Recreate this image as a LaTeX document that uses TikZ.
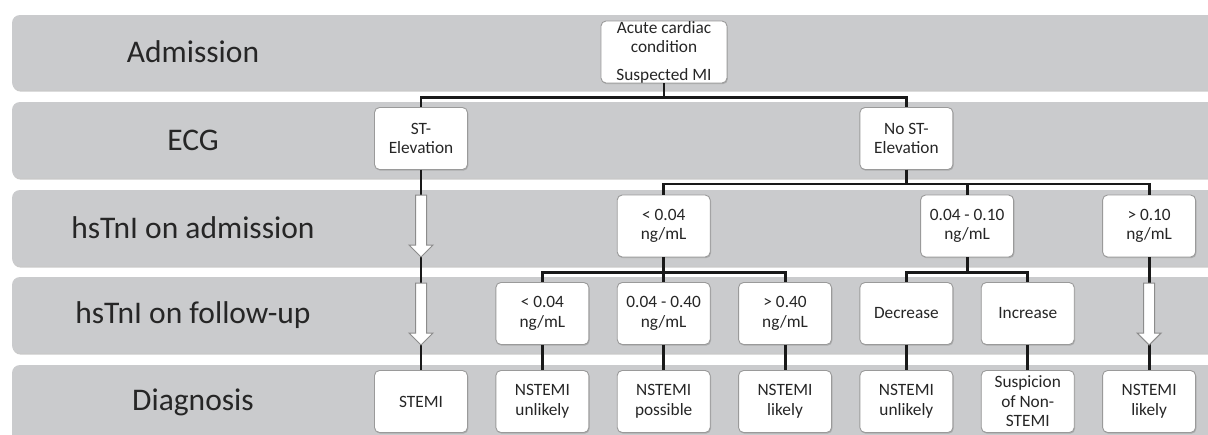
\documentclass[tikz,border=0pt]{standalone}
\usepackage{fontspec}
\setmainfont{Carlito}
\usetikzlibrary{shadows,calc}
\definecolor{bandgray}{HTML}{CACBCD}
\definecolor{boxline}{HTML}{9A9A9A}
\definecolor{txt}{HTML}{262626}
\definecolor{arrline}{HTML}{8C8C8C}
\tikzset{
  band/.style={fill=bandgray, rounded corners=8pt,
    drop shadow={shadow xshift=0.6pt, shadow yshift=-1.6pt, opacity=0.35, fill=black!60}},
  lbl/.style={text=txt, font=\fontsize{31.5}{36}\selectfont, inner sep=0pt},
  box/.style={draw=boxline, line width=0.9pt, fill=white, rounded corners=5pt,
    minimum width=93pt, minimum height=62pt, inner sep=0pt, align=center,
    text=txt, font=\fontsize{17.3}{19.5}\selectfont,
    drop shadow={shadow xshift=0.8pt, shadow yshift=-1.2pt, opacity=0.3, fill=black!60}},
  conn/.style={line width=2.9pt, draw=black!90},
  hollow/.style={draw=arrline, line width=1pt, fill=white, line join=miter}
}
\newcommand\hollowarr[2]{%
  \draw[hollow] ($(#1)+(-5.5,0)$) -- ($(#2)+(-5.5,-12)$) -- ($(#2)+(-12,-12)$) --
    (#2) -- ($(#2)+(12,-12)$) -- ($(#2)+(5.5,-12)$) -- ($(#1)+(5.5,0)$) -- cycle;}
\begin{document}
\begin{tikzpicture}[x=1pt,y=-1pt]
\useasboundingbox (0,0) rectangle (1208,434);
\clip (0,0) rectangle (1208,434);
\fill[white] (0,0) rectangle (1208,434);
% lanes
\path[band] (12,15) rectangle (1240,90);
\path[band] (12,102) rectangle (1240,178);
\path[band] (12,190) rectangle (1240,266);
\path[band] (12,277) rectangle (1240,353);
\path[band] (12,365) rectangle (1240,470);
% lane labels
\node[lbl] (lA) at (193,52) {Admission};
\node[lbl] (lE) at (193,140) {ECG};
\node[lbl] (lH) at (193,228) {hsTnI on admission};
\node[lbl] (lF) at (193,315) {hsTnI on follow-up};
\node[lbl] (lD) at (193,402) {Diagnosis};
% arrow coordinates
\coordinate (a1s) at (421,195);
\coordinate (a1e) at (421,257);
\coordinate (a2s) at (421,283);
\coordinate (a2e) at (421,345);
\coordinate (a3s) at (1149.1,283);
\coordinate (a3e) at (1149.1,345);
% boxes
\node[box, minimum width=126pt] (acute) at (664,52)
  {\fontsize{17.3}{17}\selectfont Acute cardiac\\condition\\[8pt]Suspected MI};
\node[box] (stel) at (421,138.5) {ST-\\Elevation};
\node[box] (nost) at (906.4,138.5) {No ST-\\Elevation};
\node[box] (hlow) at (663.7,226) {< 0.04\\ng/mL};
\node[box] (hmid) at (967.1,226) {0.04 - 0.10\\ng/mL};
\node[box] (hhigh) at (1149.1,226) {> 0.10\\ng/mL};
\node[box] (f1) at (542.35,313.5) {< 0.04\\ng/mL};
\node[box] (f2) at (663.7,313.5) {0.04 - 0.40\\ng/mL};
\node[box] (f3) at (785.05,313.5) {> 0.40\\ng/mL};
\node[box] (f4) at (906.4,313.5) {Decrease};
\node[box] (f5) at (1027.75,313.5) {Increase};
\node[box] (d0) at (421,401.5) {STEMI};
\node[box] (d1) at (542.35,401.5) {NSTEMI\\unlikely};
\node[box] (d2) at (663.7,401.5) {NSTEMI\\possible};
\node[box] (d3) at (785.05,401.5) {NSTEMI\\likely};
\node[box] (d4) at (906.4,401.5) {NSTEMI\\unlikely};
\node[box] (d5) at (1027.75,401.5) {Suspicion\\of Non-\\STEMI};
\node[box] (d6) at (1149.1,401.5) {NSTEMI\\likely};
% connectors
\draw[conn] (acute.south) -- ++(0,14) -| (stel.north);
\draw[conn] (acute.south) -- ++(0,14) -| (nost.north);
\draw[conn] (nost.south) -- ++(0,14) -| (hlow.north);
\draw[conn] (nost.south) -- ++(0,14) -| (hmid.north);
\draw[conn] (nost.south) -- ++(0,14) -| (hhigh.north);
\draw[conn] (hlow.south) -- ++(0,15) -| (f1.north);
\draw[conn] (hlow.south) -- (f2.north);
\draw[conn] (hlow.south) -- ++(0,15) -| (f3.north);
\draw[conn] (hmid.south) -- ++(0,15) -| (f4.north);
\draw[conn] (hmid.south) -- ++(0,15) -| (f5.north);
\draw[conn] (f1.south) -- (d1.north);
\draw[conn] (f2.south) -- (d2.north);
\draw[conn] (f3.south) -- (d3.north);
\draw[conn] (f4.south) -- (d4.north);
\draw[conn] (f5.south) -- (d5.north);
\draw[conn] (stel.south) -- (d0.north);
\draw[conn] (hhigh.south) -- (d6.north);
% hollow arrows
\hollowarr{a1s}{a1e}
\hollowarr{a2s}{a2e}
\hollowarr{a3s}{a3e}
\end{tikzpicture}
\end{document}
